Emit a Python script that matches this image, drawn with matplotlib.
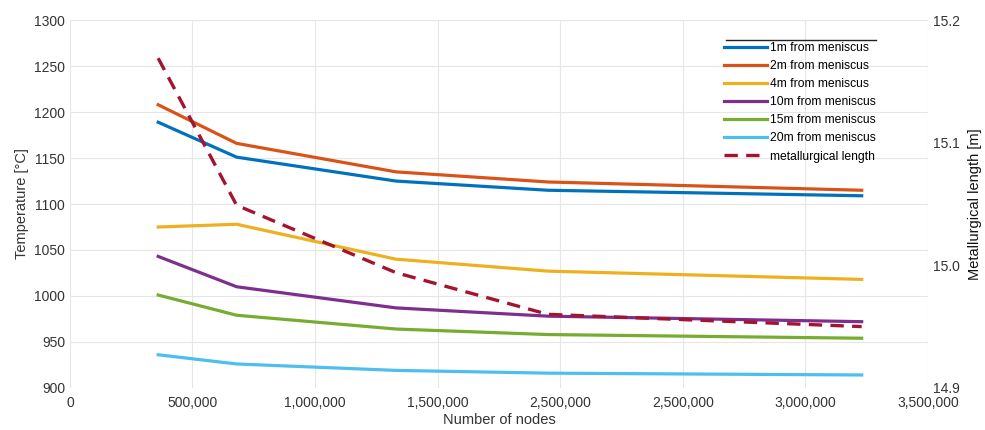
import matplotlib.pyplot as plt
from matplotlib.ticker import FixedLocator, FixedFormatter

plt.rcParams['font.family'] = ['Liberation Sans', 'DejaVu Sans']

nodes = [360000, 680000, 1330000, 1950000, 3230000]
temps = {
    '1m from meniscus': [1189, 1151, 1125, 1115, 1109],
    '2m from meniscus': [1208, 1166, 1135, 1124, 1115],
    '4m from meniscus': [1075, 1078, 1040, 1027, 1018],
    '10m from meniscus': [1043, 1010, 987, 978, 972],
    '15m from meniscus': [1001, 979, 964, 958, 954],
    '20m from meniscus': [936, 926, 919, 916, 914],
}
met_length = [15.169, 15.049, 14.994, 14.960, 14.950]

xtick_pos = [0, 500000, 1000000, 1500000, 2000000, 2500000, 3000000, 3500000]
xtick_labels = ['0', '500,000', '1,000,000', '1,500,000', '2,500,000',
                '2,500,000', '3,000,000', '3,500,000']

colors = ['#0072BD', '#D95319', '#EDB120', '#7E2F8E', '#77AC30', '#4DBEEE']

fig = plt.figure(figsize=(9.85, 4.3), dpi=100)
ax = fig.add_axes([0.071, 0.098, 0.871, 0.855])
ax2 = ax.twinx()

for (name, vals), c in zip(temps.items(), colors):
    ax.plot(nodes, vals, color=c, lw=2.3, label=name)
l2, = ax2.plot(nodes, met_length, color='#A2142F', lw=2.4, ls=(0, (4, 2.5)),
               label='metallurgical length')

ax.set_xlim(0, 3500000)
ax.set_ylim(900, 1300)
ax2.set_ylim(14.9, 15.2)
ax.xaxis.set_major_locator(FixedLocator(xtick_pos))
ax.xaxis.set_major_formatter(FixedFormatter(xtick_labels))
ax.set_yticks(range(900, 1301, 50))
ax2.set_yticks([14.9, 15.0, 15.1, 15.2])
ax2.set_yticklabels(['14.9', '15.0', '15.1', '15.2'])

ax.grid(True, color='#e6e6e6', lw=0.8)
ax.set_axisbelow(True)
for a in (ax, ax2):
    for s in a.spines.values():
        s.set_visible(False)
    a.tick_params(length=0, labelsize=10, labelcolor='#333333')
ax.tick_params(axis='x', pad=6)

ax.set_xlabel('Number of nodes', fontsize=10.5, color='#333333', labelpad=2)
ax.set_ylabel('Temperature [°C]', fontsize=10.5, color='#333333')
ax2.set_ylabel('Metallurgical length [m]', fontsize=10.5, color='#111111',
               labelpad=6)

h, lab = ax.get_legend_handles_labels()
leg = ax.legend(h + [l2], lab + ['metallurgical length'], loc='upper left',
                bbox_to_anchor=(0.762, 0.94), frameon=False, fontsize=8.7,
                handlelength=3.6, handletextpad=0.2, labelspacing=0.5,
                borderaxespad=0, borderpad=0)
ax.plot([0.765, 0.94], [0.946, 0.946], transform=ax.transAxes,
        color='#222222', lw=1, clip_on=False)

fig.savefig('out.png', dpi=100)
